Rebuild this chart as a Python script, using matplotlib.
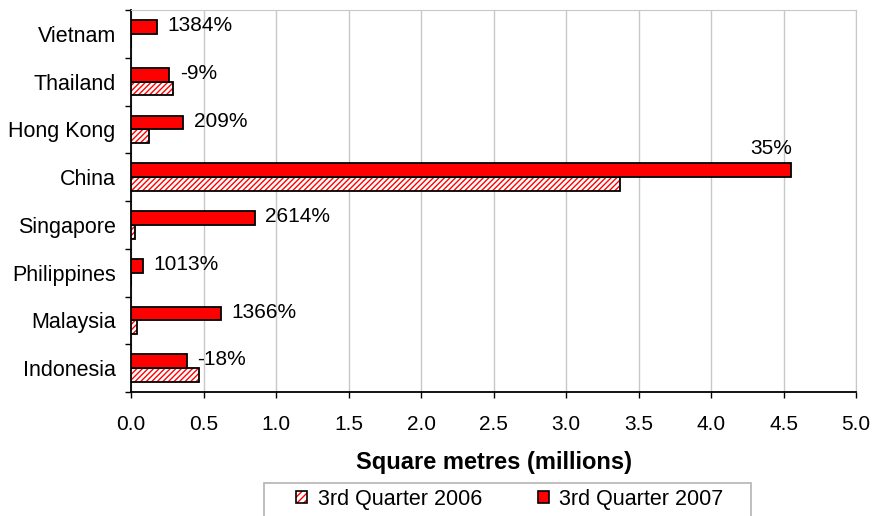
import matplotlib.pyplot as plt
import numpy as np
from matplotlib.patches import Patch, Rectangle

plt.rcParams['font.family'] = ['Liberation Sans', 'DejaVu Sans']

# datos (de abajo hacia arriba)
paises = ['Indonesia', 'Malaysia', 'Philippines', 'Singapore',
          'China', 'Hong Kong', 'Thailand', 'Vietnam']
q3_2006 = [0.47, 0.042, 0.0, 0.031, 3.37, 0.127, 0.287, 0.0]
q3_2007 = [0.386, 0.62, 0.084, 0.855, 4.55, 0.36, 0.264, 0.18]
cambio = ['-18%', '1366%', '1013%', '2614%', '35%', '209%', '-9%', '1384%']

rojo = '#ff0000'
gris = '#c8c8c8'
fs = 15
y = np.arange(len(paises))
h = 0.29

W, H = 874, 516
fig = plt.figure(figsize=(W / 100, H / 100), dpi=100)
ax = fig.add_axes([131 / W, 1 - 392 / H, (856 - 131) / W, (392 - 10) / H])

# barras 2006: fondo blanco con rayas rojas y borde negro
ax.barh(y - h / 2, q3_2006, height=h, color='white', edgecolor=rojo,
        hatch='//////', linewidth=0, zorder=3)
ax.barh(y - h / 2, q3_2006, height=h, fill=False, edgecolor='black',
        linewidth=1.3, zorder=4)
# barras 2007
ax.barh(y + h / 2, q3_2007, height=h, color=rojo, edgecolor='black',
        linewidth=1.3, zorder=4)

# etiquetas de cambio porcentual
for i, (v, txt) in enumerate(zip(q3_2007, cambio)):
    if paises[i] == 'China':
        ax.annotate(txt, (v, i + h), xytext=(1, 3.5),
                    textcoords='offset points', ha='right', va='bottom',
                    fontsize=fs)
    else:
        ax.annotate(txt, (v, i + h / 2 + 0.03), xytext=(7.5, 0),
                    textcoords='offset points', ha='left', va='center',
                    fontsize=fs)

ax.set_xlim(0, 5)
ax.set_ylim(-0.5, len(paises) - 0.5)
ticks = np.arange(0, 5.01, 0.5)
ax.set_xticks(ticks)
ax.set_xticklabels(['%.1f' % t for t in ticks], fontsize=fs)
ax.set_yticks(y)
ax.set_yticklabels(paises, fontsize=15.5)
ax.set_yticks(np.arange(-0.5, len(paises), 1), minor=True)
ax.tick_params(axis='y', which='major', length=0, pad=11)
ax.tick_params(axis='y', which='minor', length=4.5, width=1, color='black')
ax.tick_params(axis='x', length=4.5, width=1, pad=12)

ax.grid(axis='x', color=gris, linewidth=1, zorder=0)
ax.set_axisbelow(True)
for s in ['top', 'right']:
    ax.spines[s].set_color(gris)
for s in ['left', 'bottom']:
    ax.spines[s].set_linewidth(1.3)

ax.set_xlabel('Square metres (millions)', fontsize=17, fontweight='bold',
              labelpad=12)

# marco de la leyenda
fig.patches.append(Rectangle((264 / W, -0.05), (751 - 264) / W,
                             0.05 + 1 - 483 / H, transform=fig.transFigure,
                             facecolor='white', edgecolor='#b4b4b4',
                             linewidth=1.2))

h06 = (Patch(facecolor='white', edgecolor=rojo, hatch='/////', linewidth=0),
       Patch(fill=False, edgecolor='black', linewidth=1.2))
h07 = Patch(facecolor=rojo, edgecolor='black', linewidth=1.2)
fig.legend([h06, h07], ['3rd Quarter 2006', '3rd Quarter 2007'],
           loc='center left', bbox_to_anchor=(296 / W, 1 - 499 / H), ncol=2,
           fontsize=15.5, frameon=False, borderpad=0, borderaxespad=0,
           handlelength=0.5, handleheight=0.5, handletextpad=0.5,
           columnspacing=2.6)

fig.savefig('out.png', dpi=100)
